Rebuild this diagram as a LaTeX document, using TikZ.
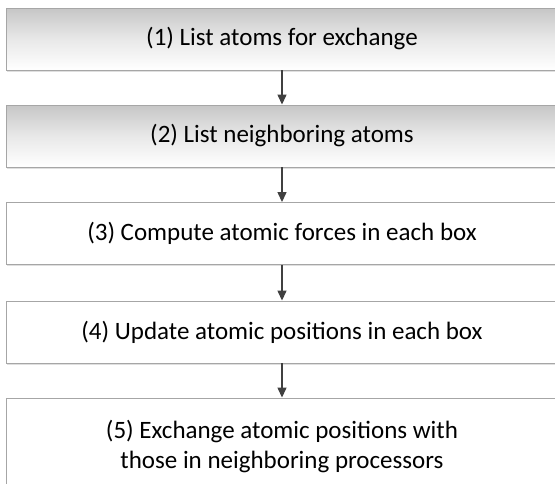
\documentclass[tikz,border=0pt]{standalone}
\usepackage{fontspec}
\setmainfont{Carlito}
\usetikzlibrary{arrows.meta,shadows}
\definecolor{boxline}{HTML}{A6A6A6}
\definecolor{arrowcol}{HTML}{404040}
\definecolor{shadegray}{HTML}{C6C6C6}
\begin{document}
\begin{tikzpicture}[x=1pt,y=-1pt,
  stepbox/.style={draw=boxline, line width=0.9pt, fill=white, minimum width=552pt,
    minimum height=62pt, inner sep=0pt, align=center, text=black,
    font=\fontsize{25}{30}\selectfont,
    drop shadow={shadow xshift=1pt, shadow yshift=-1.8pt, opacity=0.25, fill=black!50}},
  shadedbox/.style={stepbox, top color=shadegray, bottom color=white, middle color=white!60!shadegray},
  flow/.style={draw=arrowcol, line width=1.3pt, -{Triangle[width=9pt,length=10pt]}}]
\path[use as bounding box, clip] (0,0) rectangle (555,483);
\fill[white] (0,0) rectangle (555,483);
\node[shadedbox] (b1) at (282,39) {(1) List atoms for exchange};
\node[shadedbox] (b2) at (282,136) {(2) List neighboring atoms};
\node[stepbox] (b3) at (282,233.5) {(3) Compute atomic forces in each box};
\node[stepbox] (b4) at (282,332) {(4) Update atomic positions in each box};
\node[stepbox, minimum height=96pt] (b5) at (282,446) {(5) Exchange atomic positions with\\those in neighboring processors};
\draw[flow] (b1.south) -- (b2.north);
\draw[flow] (b2.south) -- (b3.north);
\draw[flow] (b3.south) -- (b4.north);
\draw[flow] (b4.south) -- (b5.north);
\end{tikzpicture}
\end{document}
